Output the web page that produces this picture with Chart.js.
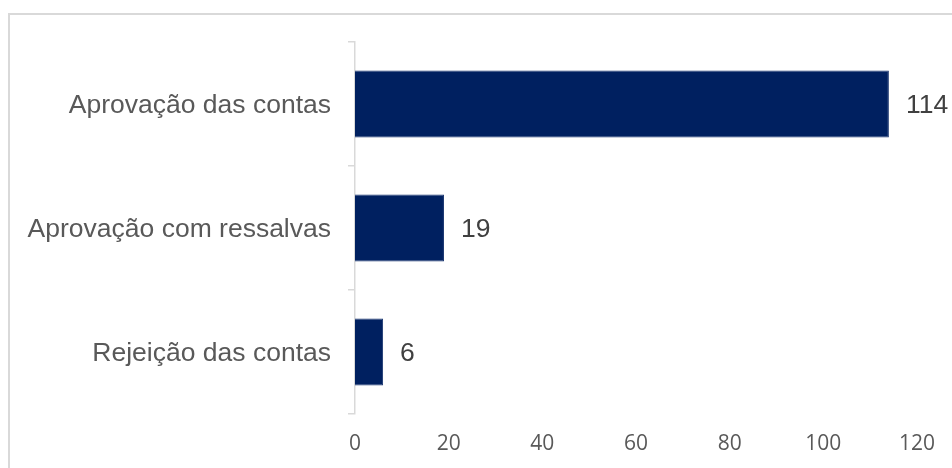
<!DOCTYPE html>
<html>
<head>
<meta charset="utf-8">
<script src="https://cdn.jsdelivr.net/npm/chart.js@4/dist/chart.umd.min.js"></script>
<style>
  html, body { margin: 0; padding: 0; background: #fff; overflow: hidden; }
  #wrap { position: relative; width: 952px; height: 468px; }
  #frame {
    position: absolute; left: 8px; top: 13px; width: 1000px; height: 500px;
    border-top: 2px solid #d9d9d9; border-left: 2px solid #d9d9d9;
    box-sizing: border-box; pointer-events: none;
  }
  canvas { position: absolute; left: 0; top: 0; }
</style>
</head>
<body>
<div id="wrap">
  <div id="frame"></div>
  <canvas id="chart" width="952" height="468"></canvas>
</div>
<script>
const categories = ["Aprovação das contas", "Aprovação com ressalvas", "Rejeição das contas"];
const values = [114, 19, 6];
const xTicks = [0, 20, 40, 60, 80, 100, 120];

// value labels to the right of each bar
const barLabels = {
  id: "barLabels",
  afterDatasetsDraw(chart) {
    const ctx = chart.ctx;
    const meta = chart.getDatasetMeta(0);
    ctx.save();
    ctx.font = "26.5px 'Liberation Sans', Arial, sans-serif";
    ctx.fillStyle = "#404040";
    ctx.textAlign = "left";
    ctx.textBaseline = "middle";
    meta.data.forEach((bar, i) => {
      ctx.fillText(String(values[i]), bar.x + 17, bar.y + 2);
    });
    ctx.restore();
  }
};

new Chart(document.getElementById("chart").getContext("2d"), {
  type: "bar",
  data: {
    labels: categories,
    datasets: [{
      data: values,
      backgroundColor: "#002060",
      borderColor: "#1a3670",
      borderWidth: 1,
      categoryPercentage: 1,
      barPercentage: 0.54
    }]
  },
  options: {
    indexAxis: "y",
    responsive: false,
    animation: false,
    layout: { padding: { top: 42, right: 34, left: 0, bottom: 0 } },
    plugins: {
      legend: { display: false },
      tooltip: { enabled: false }
    },
    scales: {
      x: {
        min: 0,
        max: 120,
        afterBuildTicks(scale) {
          scale.ticks = xTicks.map(v => ({ value: v }));
        },
        afterFit(scale) { scale.height = 54; },
        grid: { display: false, drawTicks: false },
        border: { display: false },
        ticks: {
          padding: 17,
          color: "#595959",
          font: { family: "'Open Sans', sans-serif", size: 21 }
        }
      },
      y: {
        afterFit(scale) { scale.width = 355; },
        grid: {
          drawOnChartArea: false,
          color: "#d9d9d9",
          lineWidth: 1.5,
          tickLength: 7
        },
        border: { display: true, color: "#d9d9d9", width: 1.5 },
        ticks: {
          padding: 17,
          labelOffset: 2,
          color: "#595959",
          font: { family: "'Liberation Sans', Arial, sans-serif", size: 26.5 }
        }
      }
    }
  },
  plugins: [barLabels]
});
</script>
</body>
</html>
